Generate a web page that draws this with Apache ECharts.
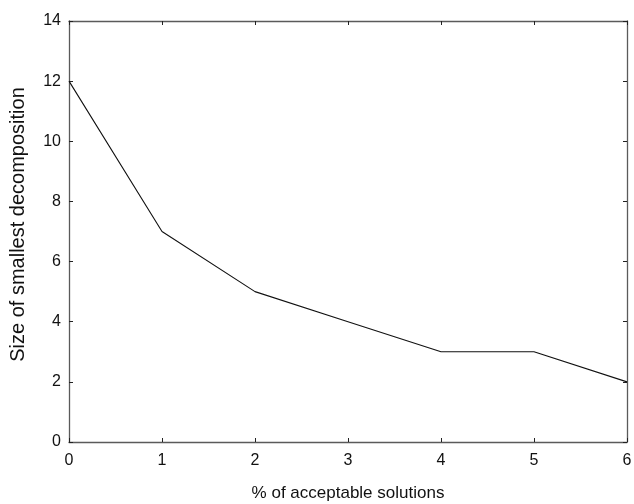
<!DOCTYPE html>
<html>
<head>
<meta charset="utf-8">
<script src="https://cdn.jsdelivr.net/npm/echarts@6/dist/echarts.min.js"></script>
<style>
  html, body { margin: 0; padding: 0; background: #fff; }
  #chart { width: 634px; height: 504px; }
</style>
</head>
<body>
<div id="chart"></div>
<script>
// Percentage of acceptable solutions vs. size of the smallest decomposition
const acceptablePct = [0, 1, 2, 3, 4, 5, 6];
const smallestSize = [12, 7, 5, 4, 3, 3, 2];

const xTitle = '% of acceptable solutions';
const yTitle = 'Size of smallest decomposition';

const FONT = '"Liberation Sans", Arial, Helvetica, sans-serif';
const AXIS_COLOR = '#5a5a5a';

const points = acceptablePct.map((x, i) => [x, smallestSize[i]]);

function axis(extra) {
  return Object.assign({
    type: 'value',
    axisLine: { show: true, onZero: false, lineStyle: { color: AXIS_COLOR, width: 1.3 } },
    axisTick: { show: true, inside: true, length: 4, lineStyle: { color: '#222', width: 1 } },
    splitLine: { show: false },
    axisLabel: { color: '#111', fontFamily: FONT, fontSize: 16 }
  }, extra);
}

const chart = echarts.init(document.getElementById('chart'), null, { renderer: 'canvas' });
chart.setOption({
  animation: false,
  backgroundColor: '#fff',
  grid: { left: 69, right: 7, top: 21, bottom: 62, outerBoundsMode: 'none', containLabel: false },
  xAxis: [
    axis({
      position: 'bottom', min: 0, max: 6, interval: 1,
      axisLabel: { color: '#111', fontFamily: FONT, fontSize: 16, margin: 11 },
      name: xTitle, nameLocation: 'middle', nameGap: 43,
      nameTextStyle: { color: '#111', fontFamily: FONT, fontSize: 17 }
    }),
    axis({
      position: 'top', min: 0, max: 6, interval: 1,
      axisLabel: { show: false }
    })
  ],
  yAxis: [
    axis({
      position: 'left', min: 0, max: 14, interval: 2,
      axisLabel: { color: '#111', fontFamily: FONT, fontSize: 16, margin: 8 },
      name: yTitle, nameLocation: 'middle', nameGap: 41,
      nameTextStyle: { color: '#111', fontFamily: FONT, fontSize: 20, padding: [0, 0, 0, 14] }
    }),
    axis({
      position: 'right', min: 0, max: 14, interval: 2,
      axisLabel: { show: false }
    })
  ],
  series: [{
    type: 'line',
    xAxisIndex: 0,
    yAxisIndex: 0,
    data: points,
    symbol: 'none',
    lineStyle: { color: '#111', width: 1.1 }
  }]
});
</script>
</body>
</html>
